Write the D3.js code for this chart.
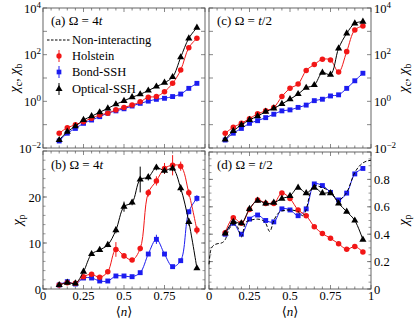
<!DOCTYPE html>
<html>
<head>
<meta charset="utf-8">
<script src="https://cdn.jsdelivr.net/npm/d3@7"></script>
<style>
  body { margin: 0; background: #fff; }
  svg { font-family: "Liberation Serif", "DejaVu Serif", serif; }
</style>
</head>
<body>
<svg id="fig" width="415" height="321"></svg>
<script>
// filling <n>
var density = [0.1, 0.15, 0.2, 0.25, 0.3, 0.35, 0.4, 0.45, 0.5, 0.55, 0.6, 0.65, 0.7, 0.75, 0.8, 0.85, 0.9, 0.95];

// (a) Omega = 4t, chi_c / chi_b
var holsteinA = [0.043, 0.074, 0.098, 0.135, 0.19, 0.26, 0.31, 0.43, 0.55, 0.69, 0.95, 1.5, 1.6, 2.6, 5.9, 22, 200, 500];
var bondA     = [0.020, 0.043, 0.069, 0.114, 0.158, 0.22, 0.31, 0.39, 0.48, 0.63, 0.82, 1.02, 1.22, 1.35, 1.6, 2.05, 3.6, 5.9];
var opticalA  = [0.022, 0.05, 0.085, 0.16, 0.23, 0.34, 0.5, 0.75, 1.05, 1.5, 2.0, 2.9, 4.3, 6.3, 11, 77, 500, 1450];

// (c) Omega = t/2
var holsteinC = [0.043, 0.077, 0.114, 0.18, 0.29, 0.39, 0.55, 1.6, 3.6, 5.5, 21, 38, 63, 59, 18, 135, 1150, 1700];
var bondC     = [0.022, 0.043, 0.069, 0.114, 0.148, 0.20, 0.28, 0.39, 0.43, 0.55, 0.69, 1.07, 1.23, 1.7, 1.9, 3.6, 7.6, 16];
var opticalC  = [0.023, 0.054, 0.097, 0.16, 0.23, 0.36, 0.50, 0.77, 1.23, 2.05, 3.8, 5.0, 17, 14, 186, 810, 2200, 2600];

// (b) Omega = 4t, chi_p
var holsteinB = [0.87, 1.37, 1.23, 2.68, 3.19, 2.54, 3.77, 8.6, 7.2, 6.3, 8.8, 20.9, 23.5, 26.2, 26.9, 26.7, 20.9, 12.8];
var holsteinBErr = [0.2, 0.2, 0.2, 0.2, 0.2, 0.2, 0.3, 1.6, 0.4, 0.3, 0.6, 0.8, 1.0, 1.2, 2.2, 1.0, 0.8, 0.9];
var bondB     = [0.87, 1.59, 1.09, 2.39, 2.39, 1.74, 1.74, 2.83, 2.83, 2.68, 3.55, 7.6, 10.8, 7.6, 4.86, 6.16, 16.8, 19.7];
var bondBErr  = [0.2, 0.2, 0.2, 0.2, 0.2, 0.2, 0.2, 0.2, 0.2, 0.2, 0.3, 0.3, 1.0, 0.3, 0.3, 0.4, 0.4, 0.7];
var opticalB  = [0.87, 1.37, 1.23, 3.77, 7.6, 8.5, 9.6, 12.8, 17.9, 18.8, 23.8, 24.3, 26.4, 25.7, 26.2, 21.9, 14.6, 4.5];
var opticalBErr = [0.2, 0.2, 0.2, 0.3, 0.3, 0.4, 0.5, 0.7, 1.1, 0.6, 2.8, 0.7, 0.6, 0.6, 0.6, 0.8, 0.8, 0.3];

// (d) Omega = t/2, chi_p
var holsteinD = [0.41, 0.52, 0.48, 0.58, 0.65, 0.625, 0.625, 0.70, 0.66, 0.577, 0.535, 0.455, 0.405, 0.37, 0.33, 0.29, 0.31, 0.27];
var bondD     = [0.40, 0.48, 0.40, 0.51, 0.54, 0.50, 0.49, 0.585, 0.577, 0.535, 0.585, 0.767, 0.755, 0.705, 0.65, 0.70, 0.84, 0.88];
var opticalD  = [0.405, 0.49, 0.48, 0.585, 0.645, 0.625, 0.63, 0.66, 0.68, 0.74, 0.70, 0.74, 0.70, 0.70, 0.625, 0.565, 0.50, 0.36];

// non-interacting chi_p
var freeX = [0, 0.01, 0.025, 0.05, 0.075, 0.1, 0.125, 0.15, 0.175, 0.2, 0.225, 0.25, 0.3, 0.325, 0.35, 0.375, 0.4, 0.45, 0.5, 0.55, 0.575, 0.6, 0.625, 0.65, 0.7, 0.75, 0.8, 0.825, 0.85, 0.9, 0.95, 1.0];
var freeD = [0.18, 0.28, 0.315, 0.33, 0.335, 0.36, 0.44, 0.47, 0.455, 0.38, 0.485, 0.50, 0.51, 0.505, 0.48, 0.42, 0.50, 0.57, 0.577, 0.565, 0.535, 0.58, 0.705, 0.755, 0.74, 0.71, 0.645, 0.67, 0.705, 0.85, 0.92, 0.94];

var xTicks = [0, 0.25, 0.5, 0.75, 1];
var xTickLabels = ['0', '0.25', '0.5', '0.75', '1'];

var red = '#f21616', blue = '#1c1cf0', black = '#000';

var svg = d3.select('#fig');

var xL = d3.scaleLinear().domain([0, 1]).range([43, 205]);
var xR = d3.scaleLinear().domain([0, 1]).range([209, 371]);
var yTop = d3.scaleLog().domain([1e-2, 1e4]).range([148, 8]);
var yB = d3.scaleLinear().domain([0, 30]).range([289, 151]);
var yD = d3.scaleLinear().domain([0, 1]).range([289, 152]);

function frame(x, y) {
  var g = svg.append('g');
  var x0 = x.range()[0], x1 = x.range()[1];
  var y0 = y.range()[0], y1 = y.range()[1];
  g.append('rect')
    .attr('x', x0).attr('y', y1)
    .attr('width', x1 - x0).attr('height', y0 - y1)
    .attr('fill', 'none').attr('stroke', '#555').attr('stroke-width', 0.9);
  // x ticks top and bottom
  d3.range(0, 1.0001, 0.05).forEach(function(t) {
    var major = Math.abs(t * 4 - Math.round(t * 4)) < 1e-6;
    var len = major ? 4 : 2.5;
    g.append('line').attr('x1', x(t)).attr('x2', x(t)).attr('y1', y0).attr('y2', y0 - len)
      .attr('stroke', '#555').attr('stroke-width', 0.7);
    g.append('line').attr('x1', x(t)).attr('x2', x(t)).attr('y1', y1).attr('y2', y1 + len)
      .attr('stroke', '#555').attr('stroke-width', 0.7);
  });
  return g;
}

function yTicksDraw(g, x, y, ticks, minor) {
  var x0 = x.range()[0], x1 = x.range()[1];
  ticks.forEach(function(t) {
    g.append('line').attr('x1', x0).attr('x2', x0 + 4).attr('y1', y(t)).attr('y2', y(t))
      .attr('stroke', '#555').attr('stroke-width', 0.7);
    g.append('line').attr('x1', x1).attr('x2', x1 - 4).attr('y1', y(t)).attr('y2', y(t))
      .attr('stroke', '#555').attr('stroke-width', 0.7);
  });
  minor.forEach(function(t) {
    g.append('line').attr('x1', x0).attr('x2', x0 + 2.5).attr('y1', y(t)).attr('y2', y(t))
      .attr('stroke', '#555').attr('stroke-width', 0.6);
    g.append('line').attr('x1', x1).attr('x2', x1 - 2.5).attr('y1', y(t)).attr('y2', y(t))
      .attr('stroke', '#555').attr('stroke-width', 0.6);
  });
}

function powLabel(x, y, exp, anchor) {
  var t = svg.append('text')
    .attr('x', x).attr('y', y + 4.5)
    .attr('font-size', '12.5px')
    .style('text-anchor', anchor);
  t.append('tspan').text('10');
  t.append('tspan').attr('dy', -5).attr('font-size', '9px').text(exp);
}

function series(x, y, values, color, shape, errs) {
  var g = svg.append('g');
  var pts = density.map(function(d, i) { return [d, values[i]]; });
  var line = d3.line()
    .x(d => x(d[0]))
    .y(d => y(d[1]))
    .curve(d3.curveCatmullRom.alpha(0.5));
  g.append('path')
    .attr('d', line(pts))
    .attr('fill', 'none')
    .attr('stroke', color)
    .attr('stroke-width', 1);
  if (errs) {
    g.selectAll('.err')
      .data(pts)
      .enter()
      .append('line')
      .attr('x1', d => x(d[0])).attr('x2', d => x(d[0]))
      .attr('y1', (d, i) => y(d[1] - errs[i])).attr('y2', (d, i) => y(d[1] + errs[i]))
      .attr('stroke', color).attr('stroke-width', 1);
  }
  var sym = d3.symbol().type(shape).size(shape === d3.symbolTriangle ? 22 : 24);
  g.selectAll('.pt')
    .data(pts)
    .enter()
    .append('path')
    .attr('d', sym)
    .attr('transform', d => 'translate(' + x(d[0]) + ',' + y(d[1]) + ')')
    .attr('fill', color);
}

// frames
var gA = frame(xL, yTop);
var gC = frame(xR, yTop);
var gB = frame(xL, yB);
var gD = frame(xR, yD);

var logMajor = [1e-2, 1e-1, 1, 10, 100, 1000, 1e4];
yTicksDraw(gA, xL, yTop, logMajor, []);
yTicksDraw(gC, xR, yTop, logMajor, []);
yTicksDraw(gB, xL, yB, [0, 10, 20, 30], d3.range(0, 30, 2));
yTicksDraw(gD, xR, yD, [0, 0.2, 0.4, 0.6, 0.8, 1], d3.range(0, 1, 0.05));

// data
series(xL, yTop, bondA, blue, d3.symbolSquare);
series(xL, yTop, holsteinA, red, d3.symbolCircle);
series(xL, yTop, opticalA, black, d3.symbolTriangle);

series(xR, yTop, bondC, blue, d3.symbolSquare);
series(xR, yTop, holsteinC, red, d3.symbolCircle);
series(xR, yTop, opticalC, black, d3.symbolTriangle);

series(xL, yB, bondB, blue, d3.symbolSquare, bondBErr);
series(xL, yB, holsteinB, red, d3.symbolCircle, holsteinBErr);
series(xL, yB, opticalB, black, d3.symbolTriangle, opticalBErr);

series(xR, yD, bondD, blue, d3.symbolSquare);
series(xR, yD, holsteinD, red, d3.symbolCircle);
series(xR, yD, opticalD, black, d3.symbolTriangle);

var freeLine = d3.line()
  .x(d => xR(d[0]))
  .y(d => yD(d[1]))
  .curve(d3.curveMonotoneX);
svg.append('path')
  .attr('d', freeLine(freeX.map((d, i) => [d, freeD[i]])))
  .attr('fill', 'none')
  .attr('stroke', black)
  .attr('stroke-width', 1)
  .attr('stroke-dasharray', '3.5,2');

// tick labels
[-2, 0, 2, 4].forEach(function(e) {
  powLabel(41, yTop(Math.pow(10, e)), e < 0 ? '\u22122' : String(e), 'end');
  powLabel(374, yTop(Math.pow(10, e)), e < 0 ? '\u22122' : String(e), 'start');
});

[0, 10, 20].forEach(function(v) {
  svg.append('text').attr('x', 41).attr('y', yB(v) + 4.5)
    .attr('font-size', '12.5px').style('text-anchor', 'end').text(v);
});
[[0, '0'], [0.2, '0.2'], [0.4, '0.4'], [0.6, '0.6'], [0.8, '0.8']].forEach(function(v) {
  svg.append('text').attr('x', 374).attr('y', yD(v[0]) + 4.5)
    .attr('font-size', '12.5px').style('text-anchor', 'start').text(v[1]);
});

xTicks.forEach(function(t, i) {
  if (t < 1) {
    svg.append('text').attr('x', xL(t)).attr('y', 300)
      .attr('font-size', '12.5px').style('text-anchor', 'middle').text(xTickLabels[i]);
  }
  svg.append('text').attr('x', xR(t)).attr('y', 300)
    .attr('font-size', '12.5px').style('text-anchor', 'middle').text(xTickLabels[i]);
});

// axis titles
function nLabel(x) {
  svg.append('text').attr('x', x).attr('y', 316)
    .attr('font-size', '13px').style('text-anchor', 'middle')
    .html('\u27E8<tspan font-style="italic">n</tspan>\u27E9');
}
nLabel(124);
nLabel(290);

function chiCB(x, y) {
  var t = svg.append('text')
    .attr('transform', 'translate(' + x + ',' + y + ') rotate(-90)')
    .attr('font-size', '14px').style('text-anchor', 'middle');
  t.append('tspan').attr('font-style', 'italic').text('\u03C7');
  t.append('tspan').attr('font-size', '10px').attr('dy', 3).text('c');
  t.append('tspan').attr('dy', -3).text(', ');
  t.append('tspan').attr('font-style', 'italic').text('\u03C7');
  t.append('tspan').attr('font-size', '10px').attr('dy', 3).text('b');
}
chiCB(19, 78);
chiCB(408, 78);

function chiP(x, y) {
  var t = svg.append('text')
    .attr('transform', 'translate(' + x + ',' + y + ') rotate(-90)')
    .attr('font-size', '14px').style('text-anchor', 'middle');
  t.append('tspan').attr('font-style', 'italic').text('\u03C7');
  t.append('tspan').attr('font-size', '10px').attr('dy', 3).text('p');
}
chiP(22, 220);
chiP(408, 220);

// panel labels
function panelLabel(x, y, tag, rhs) {
  svg.append('text').attr('x', x).attr('y', y)
    .attr('font-size', '13px')
    .html('(' + tag + ') \u03A9 = ' + rhs);
}
panelLabel(51, 25, 'a', '4<tspan font-style="italic">t</tspan>');
panelLabel(217, 25, 'c', '<tspan font-style="italic">t</tspan>/2');
panelLabel(51, 169, 'b', '4<tspan font-style="italic">t</tspan>');
panelLabel(217, 169, 'd', '<tspan font-style="italic">t</tspan>/2');

// legend
var legend = svg.append('g');
legend.append('line').attr('x1', 47).attr('x2', 71).attr('y1', 40).attr('y2', 40)
  .attr('stroke', black).attr('stroke-width', 1).attr('stroke-dasharray', '2.5,1.5');
legend.append('text').attr('x', 72).attr('y', 44).attr('font-size', '12.5px').text('Non-interacting');

var legendItems = [
  { name: 'Holstein', color: red, shape: d3.symbolCircle, y: 56 },
  { name: 'Bond-SSH', color: blue, shape: d3.symbolSquare, y: 72 },
  { name: 'Optical-SSH', color: black, shape: d3.symbolTriangle, y: 89 }
];
legendItems.forEach(function(d) {
  legend.append('line').attr('x1', 59).attr('x2', 59).attr('y1', d.y - 6).attr('y2', d.y + 6)
    .attr('stroke', d.color).attr('stroke-width', 1);
  legend.append('path').attr('d', d3.symbol().type(d.shape).size(22))
    .attr('transform', 'translate(59,' + d.y + ')').attr('fill', d.color);
  legend.append('text').attr('x', 72).attr('y', d.y + 4).attr('font-size', '12.5px').text(d.name);
});
</script>
</body>
</html>
